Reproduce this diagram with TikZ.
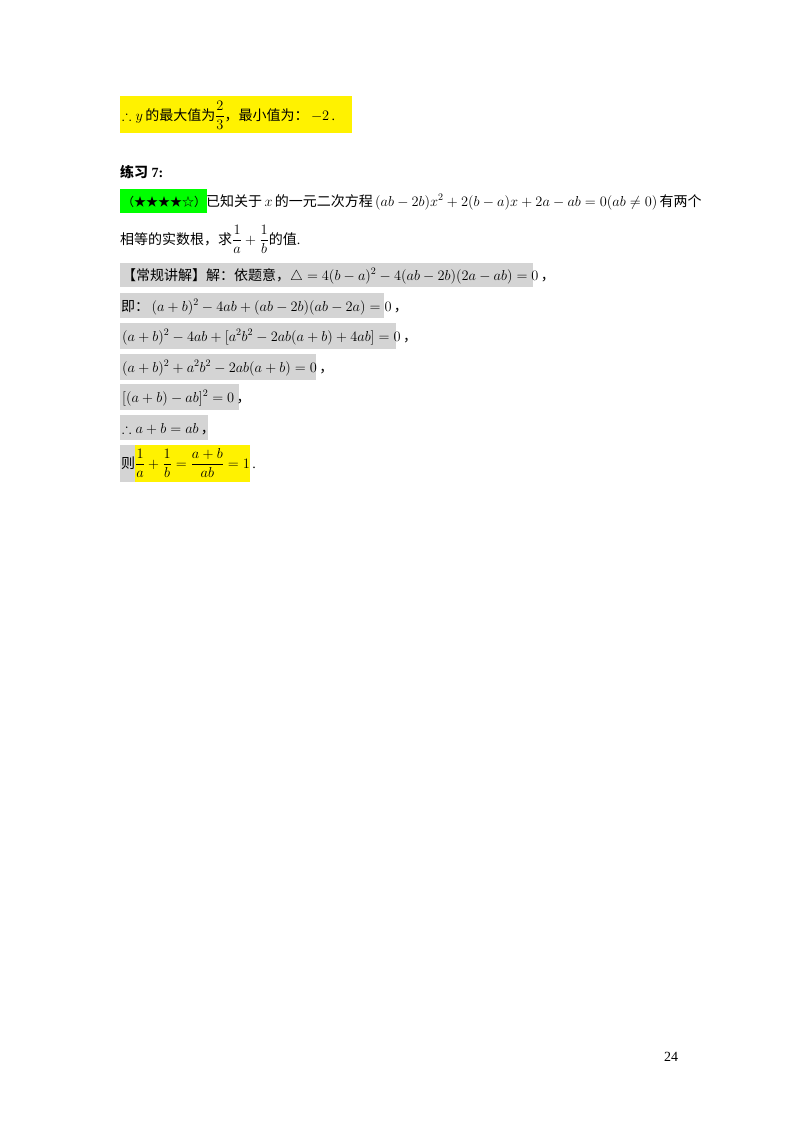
\documentclass[tikz,border=0pt]{standalone}
\usepackage{amsmath,amssymb}
\usepackage{fontspec}
\setmainfont{Liberation Serif}
\newfontfamily\cjk{Noto Sans CJK SC}
\begin{document}
\begin{tikzpicture}[x=1pt,y=-1pt,
  t/.style={anchor=base west,inner sep=0pt,font=\fontsize{14}{16}\selectfont},
  yb/.style={fill=yellow,draw=none},
  gb/.style={fill=black!17,draw=none},
  grb/.style={fill=green,draw=none}]
\useasboundingbox (0,0) rectangle (800,1132);
\fill[white] (0,0) rectangle (800,1132);
\fill[yb] (120,96) rectangle (352,133);
\node[t] (l1) at (122,120) {$\therefore y$\,{\cjk 的最大值为}$\dfrac{2}{3}${\cjk ，最小值为：}\,$-2$\,.};
\node[t] (l2) at (120,177) {{\cjk\bfseries 练习} \textbf{7:}};
\fill[grb] (120,189) rectangle (207,213);
\node[t] (l3) at (122,206) {{\cjk\fontsize{12}{14}\selectfont （★★★★☆）}{\cjk 已知关于}\,$x$\,{\cjk 的一元二次方程}\,$(ab-2b)x^2+2(b-a)x+2a-ab=0(ab\neq 0)$\,{\cjk 有两个}};
\node[t] (l4) at (120,244) {{\cjk 相等的实数根，求}$\dfrac{1}{a}+\dfrac{1}{b}${\cjk 的值}.};
\fill[gb] (120,263) rectangle (533,287);
\node[t] (g1) at (122,280) {{\cjk 【常规讲解】解：依题意，}$\triangle=4(b-a)^2-4(ab-2b)(2a-ab)=0$\,{\cjk ，}};
\fill[gb] (120,293) rectangle (384,318);
\node[t] (g2) at (121,311) {{\cjk 即：}\,$(a+b)^2-4ab+(ab-2b)(ab-2a)=0$\,{\cjk ，}};
\fill[gb] (120,323) rectangle (396,349);
\node[t] (g3) at (122,341) {$(a+b)^2-4ab+[a^2b^2-2ab(a+b)+4ab]=0$\,{\cjk ，}};
\fill[gb] (120,354) rectangle (316,380);
\node[t] (g4) at (122,372) {$(a+b)^2+a^2b^2-2ab(a+b)=0$\,{\cjk ，}};
\fill[gb] (120,384) rectangle (239,410);
\node[t] (g5) at (122,402) {$[(a+b)-ab]^2=0$\,{\cjk ，}};
\fill[gb] (120,415) rectangle (208,440);
\node[t] (g6) at (122,433) {$\therefore a+b=ab$\,{\cjk ，}};
\fill[gb] (120,445) rectangle (135,482);
\fill[yb] (135,445) rectangle (250,482);
\node[t] (g7) at (121,468) {{\cjk 则}$\dfrac{1}{a}+\dfrac{1}{b}=\dfrac{a+b}{ab}=1$\,.};
\node[t] (pg) at (664,1061) {24};
\end{tikzpicture}
\end{document}
